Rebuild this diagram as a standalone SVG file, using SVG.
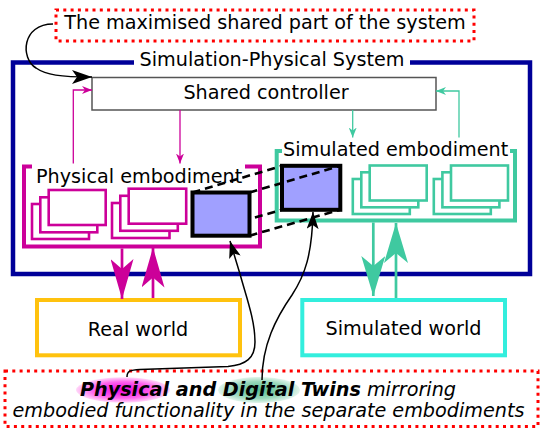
<svg xmlns="http://www.w3.org/2000/svg" width="540" height="432" viewBox="0 0 540 432">
<style>
text{font-family:"DejaVu Sans","Liberation Sans",sans-serif;font-size:19.2px;fill:#000}
.dot{fill:none;stroke:#ff0000;stroke-width:3;stroke-dasharray:3 4.3}
.mg{fill:#fff;stroke:#cc0099;stroke-width:2.6}
.tl{fill:#fff;stroke:#3fc9a0;stroke-width:2.6}
.twin{fill:#a0a0ff;stroke:#000;stroke-width:4}
.dash{fill:none;stroke:#000;stroke-width:2.6;stroke-dasharray:8 5}
.curve{fill:none;stroke:#000;stroke-width:1.5}
</style>
<defs>
<marker id="ahBlackL" markerUnits="userSpaceOnUse" markerWidth="20" markerHeight="14" refX="20" refY="7" orient="auto" viewBox="0 0 20 14"><path d="M0,0 L20,7 L0,14 L5,7 z" fill="#000"/></marker>
<marker id="ahBlack" markerUnits="userSpaceOnUse" markerWidth="17" markerHeight="12" refX="17" refY="6" orient="auto" viewBox="0 0 17 12"><path d="M0,0 L17,6 L0,12 L4,6 z" fill="#000"/></marker>
<marker id="ahMgS" markerUnits="userSpaceOnUse" markerWidth="10" markerHeight="8" refX="10" refY="4" orient="auto" viewBox="0 0 10 8"><path d="M0,0 L10,4 L0,8 L3,4 z" fill="#cc0099"/></marker>
<marker id="ahTlS" markerUnits="userSpaceOnUse" markerWidth="10" markerHeight="8" refX="10" refY="4" orient="auto" viewBox="0 0 10 8"><path d="M0,0 L10,4 L0,8 L3,4 z" fill="#3fc9a0"/></marker>
<marker id="ahMgB" markerUnits="userSpaceOnUse" markerWidth="40" markerHeight="23" refX="40" refY="11.5" orient="auto" viewBox="0 0 40 23"><path d="M0,0 L40,11.5 L0,23 L10,11.5 z" fill="#cc0099"/></marker>
<marker id="ahTlB" markerUnits="userSpaceOnUse" markerWidth="40" markerHeight="24" refX="40" refY="12" orient="auto" viewBox="0 0 40 24"><path d="M0,0 L40,12 L0,24 L10,12 z" fill="#3fc9a0"/></marker>
<radialGradient id="gMg" cx="0.5" cy="0.5" r="0.5"><stop offset="0" stop-color="#ee00dd"/><stop offset="0.65" stop-color="#ff66ee"/><stop offset="1" stop-color="#ffd8f8"/></radialGradient>
<radialGradient id="gTl" cx="0.5" cy="0.5" r="0.5"><stop offset="0" stop-color="#55bb90"/><stop offset="0.65" stop-color="#99d8bb"/><stop offset="1" stop-color="#e2f5ec"/></radialGradient>
</defs>
<rect width="540" height="432" fill="#fff"/>

<g id="shared-part-note">
<rect class="dot" x="56" y="10" width="418" height="31"/>
<text x="265" y="29" text-anchor="middle">The maximised shared part of the system</text>
</g>

<g id="simulation-physical-system">
<path d="M134,62.5 L13,62.5 L13,274 L530,274 L530,62.5 L410,62.5" fill="none" stroke="#000099" stroke-width="4.5"/>
<text x="272" y="65.5" text-anchor="middle">Simulation-Physical System</text>
</g>

<g id="shared-controller">
<rect x="92" y="77.5" width="344" height="32.5" fill="#fff" stroke="#555" stroke-width="1.5"/>
<text x="266" y="99" text-anchor="middle">Shared controller</text>
</g>

<g id="physical-embodiment">
<path d="M32,166.5 L24,166.5 L24,246.5 L260,246.5 L260,166.5 L245,166.5" fill="none" stroke="#cc0099" stroke-width="4"/>
<text x="36" y="183">Physical embodiment</text>
<rect class="mg" x="32" y="204" width="57" height="35"/>
<rect class="mg" x="40.3" y="197.3" width="57" height="35"/>
<rect class="mg" x="48.7" y="190" width="57" height="35"/>
<rect class="mg" x="112" y="203" width="57.5" height="35"/>
<rect class="mg" x="120.3" y="195.8" width="57.5" height="35"/>
<rect class="mg" x="128.7" y="188.7" width="57.5" height="35"/>
</g>

<g id="simulated-embodiment">
<path d="M282,151 L276.7,151 L276.7,220.5 L515,220.5 L515,151 L510,151" fill="none" stroke="#3fc9a0" stroke-width="4"/>
<text x="283" y="155.5">Simulated embodiment</text>
<rect class="tl" x="352.8" y="179" width="57" height="35"/>
<rect class="tl" x="361.3" y="172.3" width="57" height="35"/>
<rect class="tl" x="369.7" y="165.5" width="57" height="35"/>
<rect class="tl" x="433.8" y="179" width="57" height="35"/>
<rect class="tl" x="442.4" y="172.3" width="57" height="35"/>
<rect class="tl" x="451" y="165.5" width="57" height="35"/>
</g>

<g id="digital-twin">
<rect class="twin" x="282" y="165.8" width="58.3" height="44"/>
</g>

<g id="twin-mapping">
<line class="dash" x1="192.5" y1="192.5" x2="282" y2="165.8"/>
<line class="dash" x1="249.5" y1="192.5" x2="340.3" y2="165.8"/>
<line class="dash" x1="192.5" y1="235.7" x2="282" y2="209.7"/>
<line class="dash" x1="249.5" y1="235.7" x2="340.3" y2="209.7"/>
</g>

<g id="physical-twin">
<rect class="twin" x="192.5" y="192.5" width="57" height="43.2"/>
</g>

<g id="real-world">
<rect x="37" y="300" width="203" height="55.3" fill="#fff" stroke="#ffc20e" stroke-width="4"/>
<text x="138" y="335.5" text-anchor="middle">Real world</text>
</g>

<g id="simulated-world">
<rect x="302.3" y="300" width="202.7" height="55.3" fill="#fff" stroke="#33eedd" stroke-width="4"/>
<text x="403.5" y="334.5" text-anchor="middle">Simulated world</text>
</g>

<g id="twins-note">
<rect class="dot" x="5" y="371" width="533" height="55.5"/>
<ellipse cx="123" cy="390" rx="47" ry="12.7" fill="url(#gMg)"/>
<ellipse cx="259" cy="390" rx="41" ry="13" fill="url(#gTl)"/>
<text x="268" y="396" text-anchor="middle" font-style="italic"><tspan font-weight="bold">Physical and Digital Twins</tspan> mirroring</text>
<text x="268.5" y="417" text-anchor="middle" font-style="italic">embodied functionality in the separate embodiments</text>
</g>

<g id="connectors">
<path d="M73.3,163.5 L73.3,90 L92,90" fill="none" stroke="#cc0099" stroke-width="1.3" marker-end="url(#ahMgS)"/>
<path d="M180,110 L180,163.5" fill="none" stroke="#cc0099" stroke-width="1.3" marker-end="url(#ahMgS)"/>
<path d="M352.7,110 L352.7,137.5" fill="none" stroke="#3fc9a0" stroke-width="1.3" marker-end="url(#ahTlS)"/>
<path d="M459,137.5 L459,91 L436,91" fill="none" stroke="#3fc9a0" stroke-width="1.3" marker-end="url(#ahTlS)"/>
<path d="M122,248.5 L122,299" fill="none" stroke="#cc0099" stroke-width="2.7" marker-end="url(#ahMgB)"/>
<path d="M153,298 L153,247.5" fill="none" stroke="#cc0099" stroke-width="2.7" marker-end="url(#ahMgB)"/>
<path d="M373.3,222.5 L373.3,296" fill="none" stroke="#3fc9a0" stroke-width="2.7" marker-end="url(#ahTlB)"/>
<path d="M396,298 L396,223" fill="none" stroke="#3fc9a0" stroke-width="2.7" marker-end="url(#ahTlB)"/>
<path class="curve" d="M53,24 C22,24 20,58 36,68 C46,75 60,77 92,77" marker-end="url(#ahBlackL)"/>
<path class="curve" d="M127,377 C127,371 130,370 140,369.5 L228,366.5 C246,365 255,358 255,342 C255,320 246,296 240,274 L230,241" marker-end="url(#ahBlack)"/>
<path class="curve" d="M262,380 C262,345 276,318 292,295 C305,275 312,255 313,212" marker-end="url(#ahBlack)"/>
</g>
</svg>
